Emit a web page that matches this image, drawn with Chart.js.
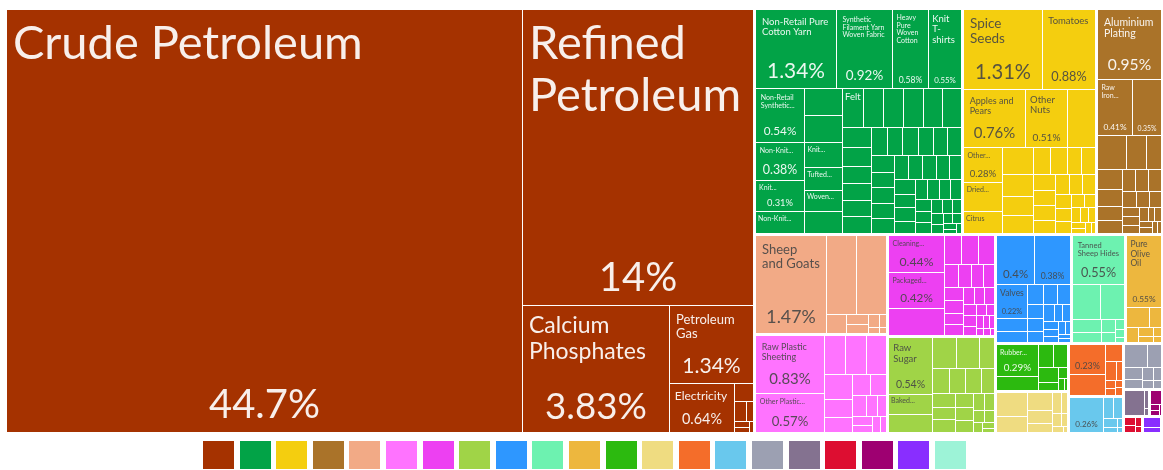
<!DOCTYPE html>
<html>
<head>
<meta charset="utf-8">
<script src="https://cdn.jsdelivr.net/npm/chart.js@4.4.1/dist/chart.umd.min.js"></script>
<style>
  html, body { margin: 0; padding: 0; background: #fff; }
  #wrap { width: 1163px; height: 470px; }
</style>
</head>
<body>
<div id="wrap"><canvas id="exportsChart"></canvas></div>
<script>
// export shares in % of total, one list per sector, largest first
const sectorNames = ['Mineral Products', 'Textiles', 'Vegetable Products', 'Metals', 'Animal Products',
  'Plastics and Rubbers', 'Chemical Products', 'Foodstuffs', 'Machines', 'Animal Hides',
  'Animal and Vegetable Bi-Products', 'Footwear and Headwear', 'Paper Goods', 'Stone and Glass',
  'Transportation', 'Weapons', 'Miscellaneous', 'Wood Products', 'Instruments', 'Precious Metals',
  'Arts and Antiques'];
const sectorColors = ['#A53200', '#02A347', '#F4CE0F', '#AA7329', '#F2AA86', '#FF73FF', '#ED40F2',
  '#A0D447', '#2E97FF', '#6DF2B0', '#EDB73E', '#2CBA0F', '#EFDC81', '#F46D2A', '#69C8ED', '#9CA0B2',
  '#847290', '#DD0E31', '#9E0071', '#892EFF', '#9DF3D7'];

const mineralValues = [44.7, 14, 3.83, 1.34, 0.64, 0.07, 0.05, 0.03, 0.02, 0.015, 0.01];
const mineralNames = ['Crude Petroleum', 'Refined Petroleum', 'Calcium Phosphates', 'Petroleum Gas', 'Electricity'];

const textileValues = [1.34, 0.92, 0.58, 0.55, 0.54, 0.38, 0.31, 0.22, 0.21, 0.21, 0.2, 0.18, 0.17, 0.17,
  0.17, 0.16, 0.16, 0.16, 0.15, 0.15, 0.12, 0.115, 0.105, 0.1, 0.1, 0.1, 0.095, 0.09, 0.09, 0.088, 0.085,
  0.08, 0.08, 0.078, 0.075, 0.075, 0.072, 0.07, 0.07, 0.068, 0.065, 0.062, 0.06, 0.058, 0.055, 0.052,
  0.05, 0.048, 0.045, 0.043, 0.04, 0.038, 0.035, 0.032, 0.03, 0.028, 0.025, 0.022, 0.02, 0.018, 0.015,
  0.012, 0.01];
const textileNames = ['Non-Retail Pure Cotton Yarn', 'Synthetic Filament Yarn Woven Fabric',
  'Heavy Pure Woven Cotton', 'Knit T-shirts', 'Non-Retail Synthetic Filament Yarn', "Non-Knit Men's Suits",
  "Knit Women's Suits", "Non-Knit Women's Suits", null, null, 'Knit Sweaters', 'Tufted Carpets',
  'Woven Pile Fabric', "Non-Knit Babies' Garments", 'Felt', null, null, null, null, 'Knit Shirts'];

const vegetableValues = [1.31, 0.88, 0.76, 0.51, 0.34, 0.28, 0.24, 0.18, 0.17, 0.14, 0.12, 0.11, 0.095,
  0.09, 0.08, 0.075, 0.075, 0.07, 0.065, 0.06, 0.06, 0.055, 0.055, 0.05, 0.045, 0.04, 0.035, 0.03, 0.028,
  0.025, 0.02, 0.018, 0.015, 0.012, 0.01];
const vegetableNames = ['Spice Seeds', 'Tomatoes', 'Apples and Pears', 'Other Nuts', null,
  'Other Vegetables', 'Dried Legumes', 'Citrus'];

const metalValues = [0.95, 0.41, 0.35, 0.21, 0.136, 0.11, 0.107, 0.09, 0.07, 0.07, 0.06, 0.06, 0.058,
  0.05, 0.045, 0.04, 0.035, 0.03, 0.03, 0.025, 0.02, 0.02, 0.018, 0.015, 0.012, 0.01];
const metalNames = ['Aluminium Plating', 'Raw Iron Bars', ''];

const animalValues = [1.47, 0.5, 0.49, 0.08, 0.05, 0.04, 0.03, 0.02, 0.015, 0.01];
const animalNames = ['Sheep and Goats'];

const plasticValues = [0.83, 0.57, 0.18, 0.17, 0.165, 0.15, 0.11, 0.09, 0.08, 0.07, 0.06, 0.05, 0.04,
  0.035, 0.03, 0.025, 0.02];
const plasticNames = ['Raw Plastic Sheeting', 'Other Plastic Sheetings'];

const chemicalValues = [0.44, 0.42, 0.32, 0.105, 0.1, 0.1, 0.07, 0.065, 0.06, 0.055, 0.05, 0.05, 0.045,
  0.04, 0.04, 0.035, 0.035, 0.03, 0.03, 0.025, 0.025, 0.02, 0.02, 0.015, 0.015, 0.01, 0.01, 0.005];
const chemicalNames = ['Cleaning Products', 'Packaged Medicaments'];

const foodValues = [0.54, 0.18, 0.17, 0.16, 0.155, 0.1, 0.09, 0.085, 0.08, 0.07, 0.065, 0.06, 0.06,
  0.055, 0.05, 0.045, 0.04, 0.035, 0.03, 0.025, 0.02, 0.015, 0.01];
const foodNames = ['Raw Sugar', 'Baked Goods'];

const machineValues = [0.4, 0.38, 0.22, 0.08, 0.075, 0.07, 0.06, 0.055, 0.05, 0.045, 0.04, 0.035, 0.03,
  0.028, 0.025, 0.022, 0.02, 0.018, 0.015, 0.012, 0.01];
const machineNames = ['', '', 'Valves'];

const hideValues = [0.55, 0.21, 0.18, 0.08, 0.06, 0.04, 0.03, 0.02, 0.015, 0.01];
const hideNames = ['Tanned Sheep Hides'];

const fatValues = [0.55, 0.1, 0.055, 0.04, 0.03, 0.02, 0.015, 0.01];
const fatNames = ['Pure Olive Oil'];

const footwearValues = [0.29, 0.13, 0.075, 0.07, 0.065, 0.035, 0.025, 0.015, 0.01];
const footwearNames = ['Rubber Footwear'];

const paperValues = [0.16, 0.11, 0.1, 0.07, 0.05, 0.04, 0.03, 0.025, 0.02, 0.015, 0.006];
const stoneValues = [0.23, 0.16, 0.065, 0.045, 0.025, 0.02, 0.015, 0.01, 0.01];
const stoneNames = [''];
const transportValues = [0.26, 0.05, 0.04, 0.03, 0.015, 0.01, 0.005];
const transportNames = [''];
const weaponValues = [0.12, 0.07, 0.05, 0.04, 0.03, 0.025, 0.02, 0.015];
const miscValues = [0.12, 0.015, 0.005];
const woodValues = [0.025, 0.02, 0.015, 0.01];
const instrumentValues = [0.04, 0.015, 0.01, 0.005];
const preciousValues = [0.045, 0.02];
const artValues = [0.005];

const sectorValues = [mineralValues, textileValues, vegetableValues, metalValues, animalValues,
  plasticValues, chemicalValues, foodValues, machineValues, hideValues, fatValues, footwearValues,
  paperValues, stoneValues, transportValues, weaponValues, miscValues, woodValues, instrumentValues,
  preciousValues, artValues];
const sectorLabels = [mineralNames, textileNames, vegetableNames, metalNames, animalNames, plasticNames,
  chemicalNames, foodNames, machineNames, hideNames, fatNames, footwearNames, [], stoneNames,
  transportNames];

const FONT = 'Lato, "Open Sans", sans-serif';
const font = s => s + 'px ' + FONT;
const sum = arr => arr.reduce((a, b) => a + b, 0);
const fmt = v => parseFloat(v.toPrecision(3)) + '%';

// d3-style squarified layout (golden ratio)
function squarify(nodes, x0, y0, x1, y1) {
  const ratio = (1 + Math.sqrt(5)) / 2;
  let value = sum(nodes.map(n => n.value));
  let i0 = 0, i1 = 0;
  const n = nodes.length;
  while (i0 < n) {
    const dx = x1 - x0, dy = y1 - y0;
    let sumValue = nodes[i1++].value;
    let minValue = sumValue, maxValue = sumValue;
    const alpha = Math.max(dy / dx, dx / dy) / (value * ratio);
    let beta = sumValue * sumValue * alpha;
    let minRatio = Math.max(maxValue / beta, beta / minValue);
    for (; i1 < n; ++i1) {
      const nv = nodes[i1].value;
      sumValue += nv;
      if (nv < minValue) minValue = nv;
      if (nv > maxValue) maxValue = nv;
      beta = sumValue * sumValue * alpha;
      const newRatio = Math.max(maxValue / beta, beta / minValue);
      if (newRatio > minRatio) { sumValue -= nv; break; }
      minRatio = newRatio;
    }
    const row = nodes.slice(i0, i1);
    if (dx < dy) {
      const yy = i1 >= n ? y1 : y0 + dy * sumValue / value;
      let x = x0;
      row.forEach(nd => { const w = (x1 - x0) * nd.value / sumValue; nd.x0 = x; nd.x1 = x + w; nd.y0 = y0; nd.y1 = yy; x += w; });
      y0 = yy;
    } else {
      const xx = i1 >= n ? x1 : x0 + dx * sumValue / value;
      let y = y0;
      row.forEach(nd => { const h = (y1 - y0) * nd.value / sumValue; nd.x0 = x0; nd.x1 = xx; nd.y0 = y; nd.y1 = y + h; y += h; });
      x0 = xx;
    }
    value -= sumValue;
    i0 = i1;
  }
}

function wrap(ctx, text, maxW) {
  const tokens = [];
  text.split(' ').forEach(word => {
    if (ctx.measureText(word).width > maxW && word.includes('-')) {
      const parts = word.split('-');
      parts.forEach((p, i) => tokens.push({ t: i < parts.length - 1 ? p + '-' : p, join: i > 0 }));
    } else tokens.push({ t: word, join: false });
  });
  const lines = [];
  let cur = '';
  tokens.forEach(tk => {
    const test = cur ? cur + (tk.join ? '' : ' ') + tk.t : tk.t;
    if (!cur || ctx.measureText(test).width <= maxW) cur = test;
    else { lines.push(cur); cur = tk.t; }
  });
  if (cur) lines.push(cur);
  return lines;
}

function fitName(ctx, name, maxW, maxH) {
  for (let s = 47; s >= 7; s -= 0.5) {
    ctx.font = font(s);
    const lines = wrap(ctx, name, maxW);
    if (lines.every(l => ctx.measureText(l).width <= maxW) && lines.length * s * 1.1 <= maxH) return { size: s, lines };
  }
  const s = 7;
  ctx.font = font(s);
  const maxLines = Math.floor(maxH / (s * 1.1));
  if (maxLines < 1) return null;
  const lines = wrap(ctx, name, maxW).slice(0, maxLines);
  while (lines.length) {
    const words = lines[lines.length - 1].split(' ');
    while (words.length) {
      const t = words.join(' ') + '...';
      if (ctx.measureText(t).width <= maxW) { lines[lines.length - 1] = t; break; }
      words.pop();
    }
    if (words.length) break;
    lines.pop();
  }
  if (!lines.length || lines.some(l => ctx.measureText(l).width > maxW)) return null;
  return { size: s, lines };
}

function textColor(hex) {
  const r = parseInt(hex.slice(1, 3), 16), g = parseInt(hex.slice(3, 5), 16), b = parseInt(hex.slice(5, 7), 16);
  return (0.299 * r + 0.587 * g + 0.114 * b) < 128 ? 'rgba(255,255,255,0.92)' : 'rgba(70,70,70,0.9)';
}

function drawLabel(ctx, name, value, x, y, w, h, color) {
  if (name === null || name === undefined) return;
  const pad = Math.min(6, Math.max(2, Math.min(w, h) * 0.1));
  const aw = w - 2 * pad, ah = h - 2 * pad;
  if (aw < 8 || ah < 7) return;
  ctx.fillStyle = textColor(color);
  ctx.textAlign = 'left';
  ctx.textBaseline = 'top';
  let nameH = 0;
  if (name) {
    const fit = fitName(ctx, name, aw, Math.max(ah * 0.45, Math.min(ah, 8)));
    if (!fit) return;
    ctx.font = font(fit.size);
    const top = y + pad + fit.size * 0.1;
    fit.lines.forEach((l, i) => ctx.fillText(l, x + pad, top + i * fit.size * 1.1));
    nameH = fit.lines.length * fit.size * 1.1 + fit.size * 0.1;
  }
  const share = fmt(value);
  ctx.font = font(100);
  const k = ctx.measureText(share).width / 100;
  const remain = ah - nameH;
  if (remain < 14) return;
  const ps = Math.min(40, aw * 0.85 / k, remain * 0.6);
  if (ps < 6.5) return;
  ctx.font = font(ps);
  ctx.textAlign = 'center';
  ctx.textBaseline = 'alphabetic';
  ctx.fillText(share, x + w / 2, y + h - pad - ps * 0.2);
}

const treemapPlugin = {
  id: 'treemap',
  afterDatasetsDraw(chart) {
    const { ctx, chartArea: ca, scales: { x, y } } = chart;
    const W = ca.right - ca.left, H = ca.bottom - ca.top;
    const groups = sectorNames.map((name, i) => ({
      name, color: sectorColors[i], value: sum(sectorValues[i]),
      items: sectorValues[i].map((v, j) => ({ value: v, name: (sectorLabels[i] || [])[j] }))
    }));
    groups.sort((a, b) => b.value - a.value);
    squarify(groups, 0, 0, W, H);
    ctx.save();
    groups.forEach(g => {
      const gx0 = x.getPixelForValue(g.x0 / W) + 1, gx1 = x.getPixelForValue(g.x1 / W) - 1;
      const gy0 = y.getPixelForValue(g.y0 / H) + 1, gy1 = y.getPixelForValue(g.y1 / H) - 1;
      if (gx1 <= gx0 || gy1 <= gy0) return;
      const items = g.items.slice().sort((a, b) => b.value - a.value);
      squarify(items, gx0, gy0, gx1, gy1);
      items.forEach(it => {
        const a = Math.round(it.x0), b = Math.round(it.y0), c = Math.round(it.x1), d = Math.round(it.y1);
        const w = c - a - 1, h = d - b - 1;
        if (w <= 0 || h <= 0) return;
        ctx.fillStyle = g.color;
        ctx.fillRect(a, b, w, h);
        drawLabel(ctx, it.name, it.value, a, b, w, h, g.color);
      });
    });
    // colour legend
    const n = chart.data.datasets.length, size = 31, gap = 5.6;
    const total = n * size + (n - 1) * gap;
    const lx = (ca.left + ca.right) / 2 - total / 2;
    chart.data.datasets.forEach((ds, i) => {
      ctx.fillStyle = ds.backgroundColor;
      ctx.fillRect(Math.round(lx + i * (size + gap)), 441, size, 28);
    });
    ctx.restore();
  }
};

new Chart(document.getElementById('exportsChart'), {
  type: 'scatter',
  data: {
    datasets: sectorNames.map((name, i) => ({ label: name, data: [], backgroundColor: sectorColors[i] }))
  },
  options: {
    responsive: true,
    maintainAspectRatio: false,
    animation: false,
    layout: { padding: { left: 6, top: 9, right: 0, bottom: 36 } },
    plugins: { legend: { display: false }, tooltip: { enabled: false } },
    scales: {
      x: { type: 'linear', min: 0, max: 1, display: false },
      y: { type: 'linear', min: 0, max: 1, reverse: true, display: false }
    }
  },
  plugins: [treemapPlugin]
});
</script>
</body>
</html>
